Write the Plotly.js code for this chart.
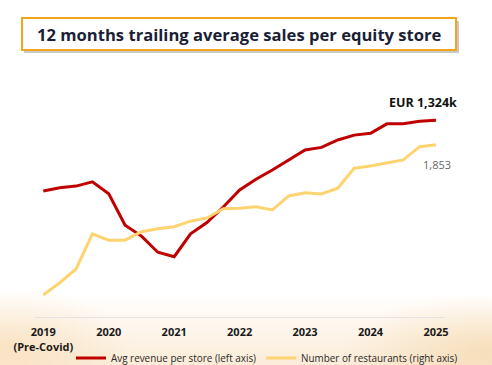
<!DOCTYPE html>
<html>
<head>
<meta charset="utf-8">
<script src="https://cdn.plot.ly/plotly-3.0.1.min.js"></script>
<style>
  html, body { margin: 0; padding: 0; }
  body {
    width: 492px; height: 365px; overflow: hidden;
    background:
      radial-gradient(ellipse 120px 55px at 10px 345px, rgba(245,210,160,0.45), rgba(255,255,255,0) 100%),
      radial-gradient(ellipse 140px 55px at 485px 350px, rgba(240,205,150,0.5), rgba(255,255,255,0) 100%),
      linear-gradient(to bottom, #ffffff 0%, #ffffff 80%, #fef7ee 89%, #fbecd8 100%);
  }
  #chart { width: 492px; height: 365px; }
</style>
</head>
<body>
<div id="chart"></div>
<script>
// Quarterly periods, 2019 .. 2025
const periods = [2019, 2019.25, 2019.5, 2019.75, 2020, 2020.25, 2020.5, 2020.75,
                 2021, 2021.25, 2021.5, 2021.75, 2022, 2022.25, 2022.5, 2022.75,
                 2023, 2023.25, 2023.5, 2023.75, 2024, 2024.25, 2024.5, 2024.75, 2025];
// Avg revenue per store, EUR k (left axis)
const avgRevenue = [1105, 1115, 1120, 1133, 1096, 999, 965, 915,
                    901, 972, 1007, 1055, 1108, 1141, 1170, 1201,
                    1232, 1240, 1263, 1278, 1284, 1313, 1313, 1321, 1324];
// Number of restaurants (right axis)
const restaurants = [1252, 1301, 1356, 1496, 1471, 1471, 1505, 1517,
                     1525, 1547, 1560, 1597, 1599, 1605, 1592, 1648,
                     1661, 1656, 1679, 1759, 1768, 1779, 1792, 1845, 1853];
const tickVals = [2019, 2020, 2021, 2022, 2023, 2024, 2025];
const tickLabels = ['2019<br>(Pre-Covid)', '2020', '2021', '2022', '2023', '2024', '2025'];
const seriesNames = ['Avg revenue per store (left axis)', 'Number of restaurants (right axis)'];
const titleText = '12 months trailing average sales per equity store';
const lastRevenueLabel = 'EUR 1,324k';
const lastRestaurantsLabel = '1,853';

const traces = [
  {
    x: periods, y: avgRevenue, name: seriesNames[0], type: 'scatter', mode: 'lines',
    line: { color: '#c00000', width: 3 }, yaxis: 'y', hoverinfo: 'skip'
  },
  {
    x: periods, y: restaurants, name: seriesNames[1], type: 'scatter', mode: 'lines',
    line: { color: '#ffd470', width: 3 }, yaxis: 'y2', hoverinfo: 'skip'
  }
];

const layout = {
  width: 492, height: 365,
  paper_bgcolor: 'rgba(0,0,0,0)', plot_bgcolor: 'rgba(0,0,0,0)',
  margin: { l: 35, r: 47, t: 90, b: 48, autoexpand: false },
  font: { family: '"Open Sans", "Noto Sans", sans-serif', color: '#222' },
  showlegend: true,
  legend: {
    orientation: 'h', x: (71 - 35) / 410, xanchor: 'left', xref: 'paper',
    y: 7 / 365, yref: 'container', yanchor: 'middle', itemwidth: 30, traceorder: 'normal',
    font: { size: 9.9, color: '#2a2a2a' }, bgcolor: 'rgba(0,0,0,0)', tracegroupgap: 0
  },
  xaxis: {
    range: [2018.873, 2025.138], tickmode: 'array', tickvals: tickVals, ticktext: tickLabels,
    showgrid: false, zeroline: false, showline: true, linecolor: '#e3e3e3', linewidth: 1,
    ticks: '', ticklabelstandoff: 5,
    tickfont: { size: 11, color: '#1a1a1a', family: '"Open Sans", "Noto Sans", sans-serif', weight: 'bold' },
    fixedrange: true
  },
  yaxis: {
    range: [714.2, 1417.9], visible: false, showgrid: false, zeroline: false, fixedrange: true
  },
  yaxis2: {
    range: [1163.8, 2071.8], overlaying: 'y', side: 'right', visible: false,
    showgrid: false, zeroline: false, fixedrange: true
  },
  shapes: [
    // title box shadow
    { type: 'rect', xref: 'paper', yref: 'paper', layer: 'below',
      x0: (24 - 35) / 410, x1: (459 - 35) / 410,
      y0: (317 - 53) / 227, y1: (317 - 21) / 227,
      fillcolor: 'rgba(120,120,120,0.4)', line: { width: 0 } },
    // title box
    { type: 'rect', xref: 'paper', yref: 'paper', layer: 'below',
      x0: (22 - 35) / 410, x1: (456 - 35) / 410,
      y0: (317 - 50) / 227, y1: (317 - 18) / 227,
      fillcolor: '#ffffff', line: { color: '#f5a31a', width: 2 } }
  ],
  annotations: [
    { text: '<b>' + titleText + '</b>', xref: 'paper', yref: 'paper',
      x: (239 - 35) / 410, y: (317 - 34) / 227, xanchor: 'center', yanchor: 'middle',
      showarrow: false, font: { size: 16.6, color: '#1b1f36', family: '"Open Sans", "Noto Sans", sans-serif' } },
    { text: '<b>' + lastRevenueLabel + '</b>', xref: 'x', yref: 'y',
      x: periods[periods.length - 1], y: avgRevenue[avgRevenue.length - 1],
      xanchor: 'right', yanchor: 'bottom', xshift: 23, yshift: 7,
      showarrow: false, font: { size: 12.5, color: '#111' } },
    { text: lastRestaurantsLabel, xref: 'x', yref: 'y2',
      x: periods[periods.length - 1], y: restaurants[restaurants.length - 1],
      xanchor: 'center', yanchor: 'top', xshift: 1, yshift: -10,
      showarrow: false, font: { size: 11, color: '#666' } }
  ]
};

Plotly.newPlot('chart', traces, layout, { displayModeBar: false, staticPlot: true });
</script>
</body>
</html>
